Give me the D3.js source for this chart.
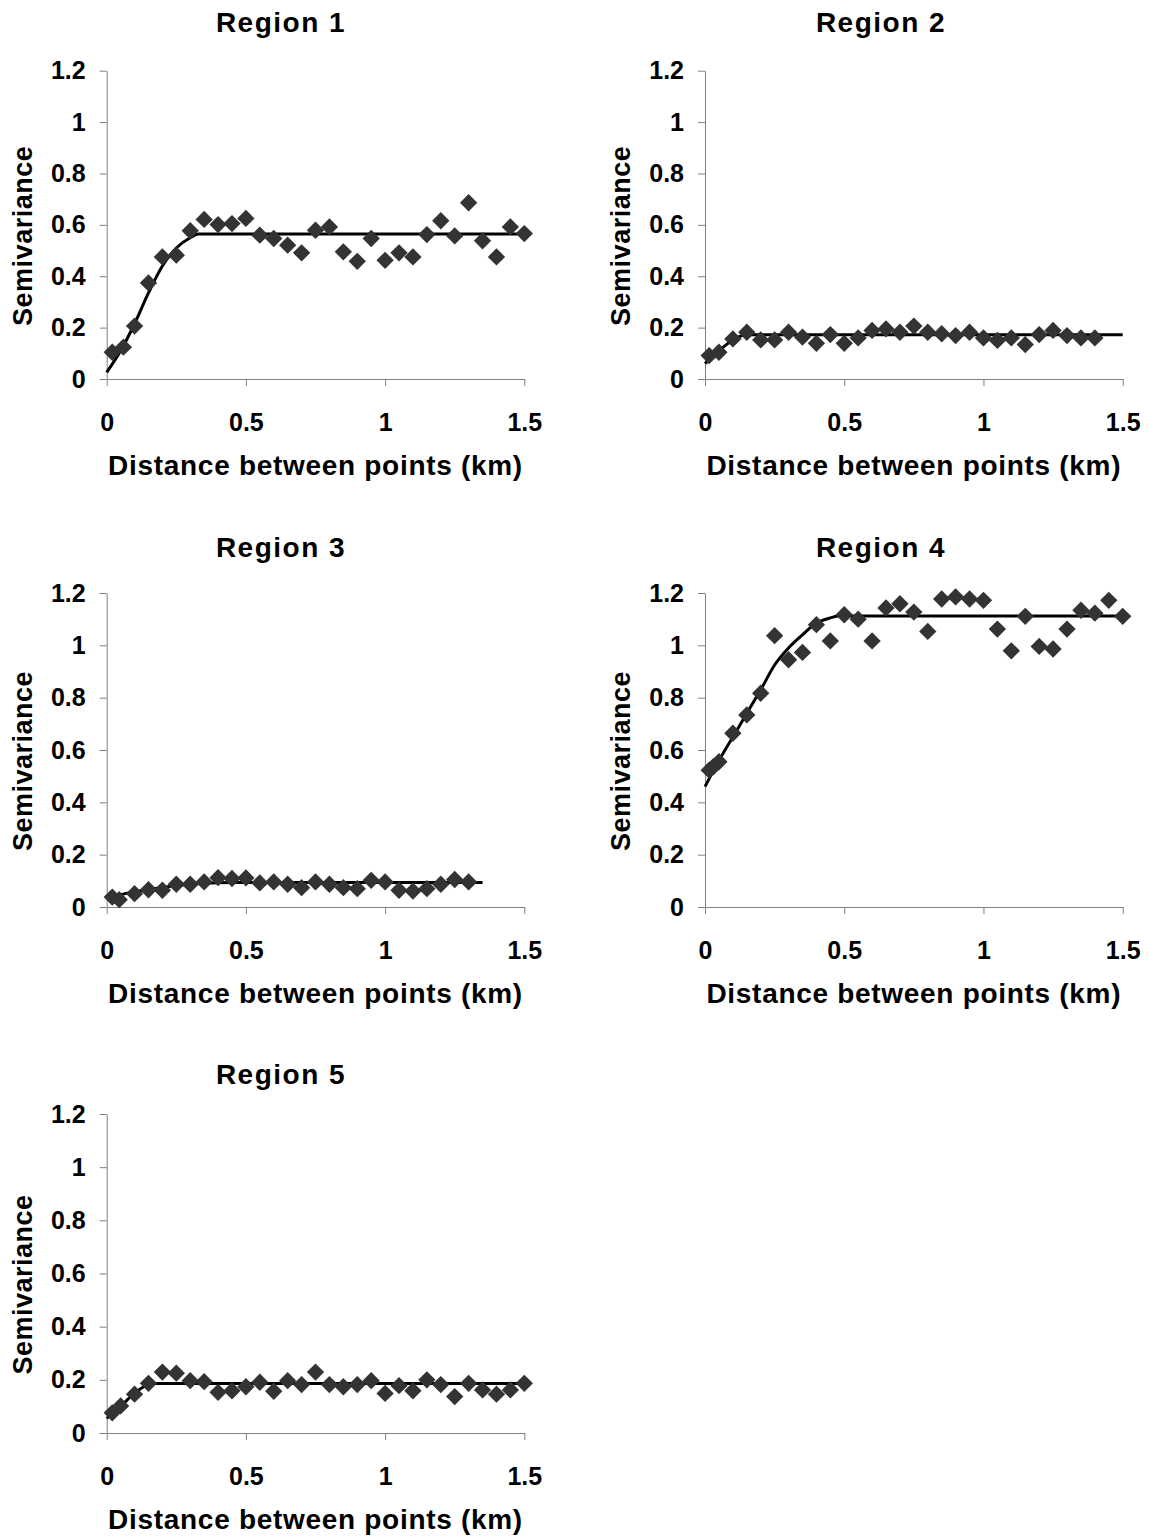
<!DOCTYPE html>
<html>
<head>
<meta charset="utf-8">
<script src="https://cdn.jsdelivr.net/npm/d3@7"></script>
<style>
  body { margin: 0; background: #fff; }
  text { font-family: "Liberation Sans", Arial, sans-serif; font-weight: bold; fill: #000; }
</style>
</head>
<body>
<div id="chart"></div>
<script>
const regionNames = ["Region 1", "Region 2", "Region 3", "Region 4", "Region 5"];
const xTicks = [0, 0.5, 1, 1.5];
const yTicks = [0, 0.2, 0.4, 0.6, 0.8, 1, 1.2];
const xLabel = "Distance between points (km)";
const yLabel = "Semivariance";

// experimental semivariance (lag distance, value)
const r1Lag = [0.02, 0.06, 0.1, 0.15, 0.2, 0.25, 0.3, 0.35, 0.4, 0.45, 0.5, 0.55, 0.6, 0.65, 0.7, 0.75, 0.8, 0.85, 0.9, 0.95, 1, 1.05, 1.1, 1.15, 1.2, 1.25, 1.3, 1.35, 1.4, 1.45, 1.5];
const r1Gamma = [0.104, 0.124, 0.206, 0.374, 0.475, 0.482, 0.577, 0.621, 0.601, 0.605, 0.625, 0.56, 0.547, 0.521, 0.491, 0.579, 0.592, 0.495, 0.458, 0.547, 0.462, 0.491, 0.475, 0.562, 0.616, 0.557, 0.686, 0.538, 0.475, 0.592, 0.566];

const r2Lag = [0.015, 0.05, 0.1, 0.15, 0.2, 0.25, 0.3, 0.35, 0.4, 0.45, 0.5, 0.55, 0.6, 0.65, 0.7, 0.75, 0.8, 0.85, 0.9, 0.95, 1, 1.05, 1.1, 1.15, 1.2, 1.25, 1.3, 1.35, 1.4];
const r2Gamma = [0.091, 0.104, 0.156, 0.182, 0.152, 0.152, 0.182, 0.163, 0.139, 0.173, 0.139, 0.16, 0.189, 0.195, 0.182, 0.206, 0.182, 0.176, 0.169, 0.182, 0.16, 0.15, 0.16, 0.134, 0.173, 0.189, 0.169, 0.16, 0.16];

const r3Lag = [0.02, 0.045, 0.1, 0.15, 0.2, 0.25, 0.3, 0.35, 0.4, 0.45, 0.5, 0.55, 0.6, 0.65, 0.7, 0.75, 0.8, 0.85, 0.9, 0.95, 1, 1.05, 1.1, 1.15, 1.2, 1.25, 1.3];
const r3Gamma = [0.038, 0.028, 0.051, 0.066, 0.064, 0.087, 0.087, 0.096, 0.112, 0.109, 0.111, 0.092, 0.096, 0.087, 0.074, 0.096, 0.087, 0.074, 0.07, 0.102, 0.096, 0.064, 0.061, 0.07, 0.087, 0.105, 0.096];

const r4Lag = [0.015, 0.03, 0.05, 0.1, 0.15, 0.2, 0.25, 0.3, 0.35, 0.4, 0.45, 0.5, 0.55, 0.6, 0.65, 0.7, 0.75, 0.8, 0.85, 0.9, 0.95, 1, 1.05, 1.1, 1.15, 1.2, 1.25, 1.3, 1.35, 1.4, 1.45, 1.5];
const r4Gamma = [0.523, 0.536, 0.555, 0.664, 0.734, 0.817, 1.037, 0.945, 0.973, 1.079, 1.017, 1.117, 1.1, 1.017, 1.143, 1.159, 1.127, 1.053, 1.177, 1.185, 1.177, 1.172, 1.062, 0.979, 1.111, 0.996, 0.986, 1.062, 1.134, 1.123, 1.172, 1.111];

const r5Lag = [0.02, 0.05, 0.1, 0.15, 0.2, 0.25, 0.3, 0.35, 0.4, 0.45, 0.5, 0.55, 0.6, 0.65, 0.7, 0.75, 0.8, 0.85, 0.9, 0.95, 1, 1.05, 1.1, 1.15, 1.2, 1.25, 1.3, 1.35, 1.4, 1.45, 1.5];
const r5Gamma = [0.076, 0.102, 0.146, 0.187, 0.229, 0.225, 0.197, 0.193, 0.153, 0.159, 0.174, 0.191, 0.157, 0.197, 0.182, 0.229, 0.182, 0.174, 0.182, 0.197, 0.149, 0.178, 0.159, 0.2, 0.182, 0.137, 0.187, 0.162, 0.146, 0.162, 0.187];

// fitted model curves
const r1ModelLag = [0, 0.05, 0.1, 0.15, 0.2, 0.25, 0.3, 0.33, 1.5];
const r1ModelGamma = [0.026, 0.11, 0.215, 0.335, 0.44, 0.51, 0.55, 0.564, 0.564];
const r2ModelLag = [0, 0.05, 0.1, 0.13, 0.15, 1.5];
const r2ModelGamma = [0.06, 0.11, 0.152, 0.168, 0.172, 0.172];
const r3ModelLag = [0, 0.1, 0.2, 0.3, 0.4, 0.45, 1.35];
const r3ModelGamma = [0.035, 0.058, 0.075, 0.087, 0.093, 0.094, 0.094];
const r4ModelLag = [0, 0.05, 0.1, 0.15, 0.2, 0.25, 0.3, 0.35, 0.4, 0.45, 0.48, 1.5];
const r4ModelGamma = [0.46, 0.56, 0.65, 0.74, 0.83, 0.925, 0.99, 1.04, 1.085, 1.105, 1.112, 1.112];
const r5ModelLag = [0, 0.05, 0.1, 0.15, 0.17, 1.5];
const r5ModelGamma = [0.055, 0.1, 0.15, 0.182, 0.186, 0.186];

const lagSets = [r1Lag, r2Lag, r3Lag, r4Lag, r5Lag];
const gammaSets = [r1Gamma, r2Gamma, r3Gamma, r4Gamma, r5Gamma];
const modelLagSets = [r1ModelLag, r2ModelLag, r3ModelLag, r4ModelLag, r5ModelLag];
const modelGammaSets = [r1ModelGamma, r2ModelGamma, r3ModelGamma, r4ModelGamma, r5ModelGamma];

// panel frames in page pixels
const frames = [
  { left: 106.7, right: 524.3, bottom: 379, top: 70.7, titleX: 281, titleY: 32 },
  { left: 705, right: 1122.7, bottom: 379, top: 70.7, titleX: 881, titleY: 32 },
  { left: 106.7, right: 524.3, bottom: 907, top: 593, titleX: 281, titleY: 557 },
  { left: 705, right: 1122.7, bottom: 907, top: 593, titleX: 881, titleY: 557 },
  { left: 106.7, right: 524.3, bottom: 1433, top: 1114, titleX: 281, titleY: 1084 }
];

const svg = d3.select("#chart").append("svg")
  .attr("width", 1151)
  .attr("height", 1536)
  .style("display", "block");

const diamond = d3.symbol().type(d3.symbolSquare).size(150);

regionNames.forEach((name, i) => {
  const f = frames[i];
  const x = d3.scaleLinear().domain([0, 1.5]).range([f.left, f.right]);
  const y = d3.scaleLinear().domain([0, 1.2]).range([f.bottom, f.top]);

  const g = svg.append("g");

  // title
  g.append("text")
    .attr("x", f.titleX)
    .attr("y", f.titleY)
    .attr("text-anchor", "middle")
    .style("font-size", "28px")
    .style("letter-spacing", "1.5px")
    .text(name);

  // axes
  const yAxis = g.append("g")
    .attr("transform", `translate(${f.left},0)`)
    .call(d3.axisLeft(y).tickValues(yTicks).tickSize(7).tickSizeOuter(0).tickPadding(14).tickFormat(d => String(d)));

  const xAxis = g.append("g")
    .attr("transform", `translate(0,${f.bottom})`)
    .call(d3.axisBottom(x).tickValues(xTicks).tickSize(7).tickSizeOuter(0).tickPadding(27).tickFormat(d => String(d)));

  [yAxis, xAxis].forEach(ax => {
    ax.select(".domain").attr("stroke", "#808080").attr("stroke-width", 1);
    ax.selectAll(".tick line").attr("stroke", "#808080").attr("stroke-width", 1);
    ax.selectAll(".tick text")
      .attr("fill", "#000")
      .style("font-family", "'Liberation Sans', Arial, sans-serif")
      .style("font-weight", "bold")
      .style("font-size", "25px");
  });

  // axis titles
  g.append("text")
    .attr("x", (f.left + f.right) / 2)
    .attr("y", f.bottom + 96)
    .attr("text-anchor", "middle")
    .style("font-size", "28px")
    .style("letter-spacing", "0.7px")
    .text(xLabel);

  g.append("text")
    .attr("transform", `translate(${f.left - 84.7},${(f.top + f.bottom) / 2 + 11}) rotate(-90)`)
    .attr("text-anchor", "middle")
    .attr("dy", "0.36em")
    .style("font-size", "27px")
    .style("letter-spacing", "0.5px")
    .text(yLabel);

  // model line
  const model = modelLagSets[i].map((h, k) => ({ h, v: modelGammaSets[i][k] }));
  const line = d3.line()
    .x(d => x(d.h))
    .y(d => y(d.v))
    .curve(d3.curveMonotoneX);

  g.append("path")
    .datum(model)
    .attr("fill", "none")
    .attr("stroke", "#000")
    .attr("stroke-width", 3)
    .attr("d", line);

  // experimental points
  const pts = lagSets[i].map((h, k) => ({ h, v: gammaSets[i][k] }));
  g.selectAll(".pt")
    .data(pts)
    .enter()
    .append("path")
    .attr("class", "pt")
    .attr("transform", d => `translate(${x(d.h)},${y(d.v)}) rotate(45)`)
    .attr("d", diamond)
    .attr("fill", "#333333");
});
</script>
</body>
</html>
